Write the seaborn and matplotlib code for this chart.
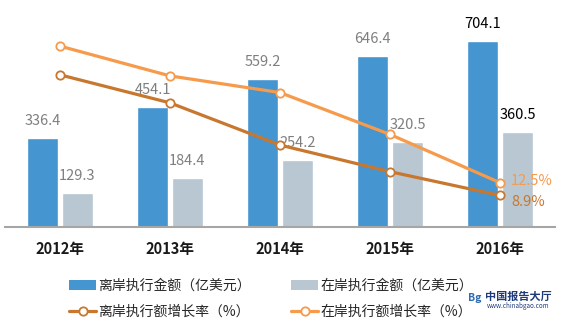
import matplotlib
matplotlib.use("Agg")
import matplotlib.pyplot as plt
import seaborn as sns
import numpy as np
import pandas as pd
from matplotlib.patches import Patch
from matplotlib.lines import Line2D

years = ["2012年", "2013年", "2014年", "2015年", "2016年"]
offshore_amount = [336.4, 454.1, 559.2, 646.4, 704.1]
onshore_amount = [129.3, 184.4, 254.2, 320.5, 360.5]
offshore_growth = [42.9, 35.0, 23.1, 15.6, 8.9]
onshore_growth = [51.0, 42.6, 37.9, 26.1, 12.5]

s_off_amt = "离岸执行金额（亿美元）"
s_on_amt = "在岸执行金额（亿美元）"
s_off_gr = "离岸执行额增长率（%）"
s_on_gr = "在岸执行额增长率（%）"

c_blue = "#4595D0"
c_gray = "#B8C7D2"
c_dark = "#C8772F"
c_light = "#F69A4C"

sns.set_theme(style="white")
plt.rcParams["font.family"] = ["Noto Sans CJK SC", "DejaVu Sans"]

bars = pd.DataFrame({
    "year": years * 2,
    "value": offshore_amount + onshore_amount,
    "series": [s_off_amt] * len(years) + [s_on_amt] * len(years),
})

fig = plt.figure(figsize=(5.67, 3.24), dpi=100)
ax = fig.add_axes([5 / 567, 1 - 227 / 324, 550 / 567, 227 / 324])

sns.barplot(data=bars, x="year", y="value", hue="series",
            palette=[c_blue, c_gray], width=0.636, gap=0.14,
            ax=ax, legend=False, saturation=1)
ax.set_xlim(-0.5, len(years) - 0.5)
ax.set_ylim(0, 858)
ax.set_xlabel("")
ax.set_ylabel("")
ax.set_yticks([])
for side in ["left", "right", "top"]:
    ax.spines[side].set_visible(False)
ax.spines["bottom"].set_color("#A6A6A6")
ax.spines["bottom"].set_linewidth(1.5)
ax.tick_params(axis="x", length=0, pad=10)
for t in ax.get_xticklabels():
    t.set_fontweight("bold")
    t.set_fontsize(10.5)
    t.set_color("#1a1a1a")

for cont in ax.containers:
    labels = ax.bar_label(cont, fmt="%.1f", padding=7, fontsize=10.5, color="#7F7F7F")
    labels[-1].set_color("black")

ax2 = ax.twinx()
x_idx = np.arange(len(years))
growth = pd.DataFrame({
    "x": np.concatenate([x_idx, x_idx]),
    "rate": offshore_growth + onshore_growth,
    "series": [s_off_gr] * len(years) + [s_on_gr] * len(years),
})
sns.lineplot(data=growth, x="x", y="rate", hue="series",
             palette=[c_dark, c_light], linewidth=2.3, marker="o",
             markersize=6, markerfacecolor="white", markeredgewidth=1.3,
             ax=ax2, legend=False)
for line, col in zip(ax2.lines, [c_dark, c_light]):
    line.set_markeredgecolor(col)
ax2.set_ylim(0, 64)
ax2.set_xlim(-0.5, len(years) - 0.5)
ax2.set_yticks([])
ax2.set_xlabel("")
ax2.set_ylabel("")
for side in ["left", "right", "top", "bottom"]:
    ax2.spines[side].set_visible(False)

ax2.annotate(f"{onshore_growth[-1]:.1f}%", (x_idx[-1], onshore_growth[-1]),
             xytext=(8, 1.5), textcoords="offset points", va="center",
             ha="left", color=c_light, fontsize=10.5)
ax2.annotate(f"{offshore_growth[-1]:.1f}%", (x_idx[-1], offshore_growth[-1]),
             xytext=(8, -5), textcoords="offset points", va="center",
             ha="left", color=c_dark, fontsize=10.5)

handles = [
    Patch(facecolor=c_blue, edgecolor="none"),
    Line2D([0], [0], color=c_dark, lw=2.3, marker="o", markersize=6,
           markerfacecolor="white", markeredgecolor=c_dark, markeredgewidth=1.3),
    Patch(facecolor=c_gray, edgecolor="none"),
    Line2D([0], [0], color=c_light, lw=2.3, marker="o", markersize=6,
           markerfacecolor="white", markeredgecolor=c_light, markeredgewidth=1.3),
]
labels_ = [s_off_amt, s_off_gr, s_on_amt, s_on_gr]
fig.legend(handles, labels_, ncol=2, loc="center",
           bbox_to_anchor=(271 / 567, 1 - 299 / 324), frameon=False,
           fontsize=10, handlelength=1.95, handleheight=0.7,
           handletextpad=0.15, columnspacing=2.9, labelspacing=0.85,
           borderpad=0)

fig.text(468 / 567, 1 - 298 / 324, "Bg", ha="left", va="center",
         fontsize=7.5, fontweight="bold", fontstyle="italic", color="#2E6DB4")
fig.text(518 / 567, 1 - 296 / 324, "中国报告大厅", ha="center", va="center",
         fontsize=8, fontweight="bold", color="#1F3A7A")
fig.text(518 / 567, 1 - 306 / 324, "www.chinabgao.com", ha="center",
         va="center", fontsize=4.5, color="#1F3A7A")

fig.savefig("out.png", dpi=100)
